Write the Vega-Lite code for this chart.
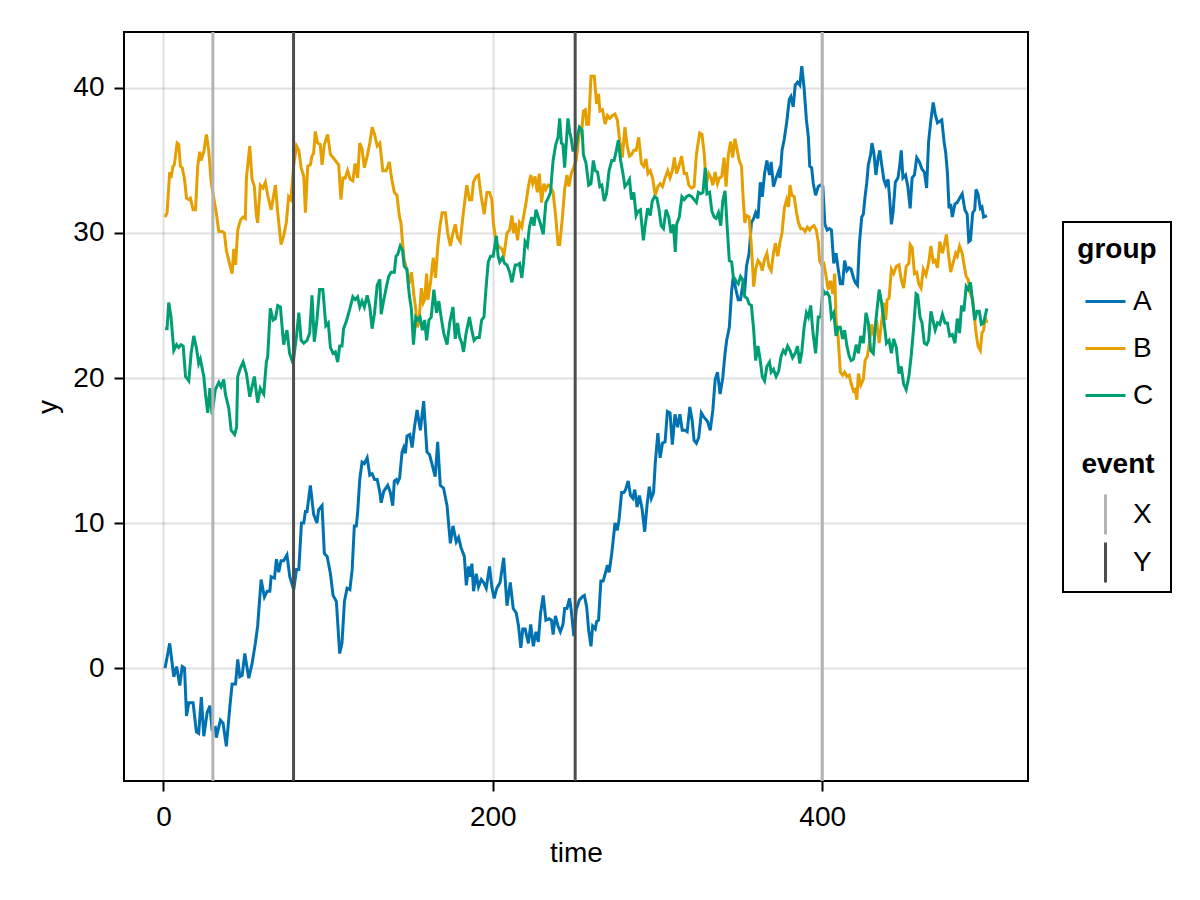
{
  "$schema": "https://vega.github.io/schema/vega-lite/v6.json",
  "width": 904,
  "height": 749,
  "autosize": {"type": "none"},
  "padding": {"left": 124, "top": 32, "right": 172, "bottom": 119},
  "background": "white",
  "datasets": {
    "walks": [
      {"group":"A","time":1,"y":0.0},{"group":"A","time":3.8,"y":1.7},{"group":"A","time":6.3,"y":-0.6},{"group":"A","time":8,"y":0.1},{"group":"A","time":9.9,"y":-1.2},{"group":"A","time":11.4,"y":0.1},{"group":"A","time":12.8,"y":0.0},{"group":"A","time":14,"y":-3.3},{"group":"A","time":15.4,"y":-2.4},{"group":"A","time":18,"y":-2.4},{"group":"A","time":20,"y":-4.4},{"group":"A","time":21.4,"y":-4.5},{"group":"A","time":23,"y":-2.0},{"group":"A","time":24.5,"y":-4.7},{"group":"A","time":26.5,"y":-3.1},{"group":"A","time":28.2,"y":-2.6},{"group":"A","time":29.5,"y":-4.2},{"group":"A","time":31.5,"y":-4.1},{"group":"A","time":32.1,"y":-4.8},{"group":"A","time":34.6,"y":-3.6},{"group":"A","time":36.2,"y":-3.8},{"group":"A","time":38.2,"y":-5.4},{"group":"A","time":40.3,"y":-2.7},{"group":"A","time":41.7,"y":-1.1},{"group":"A","time":43.8,"y":-1.1},{"group":"A","time":45.1,"y":0.6},{"group":"A","time":46.4,"y":-0.6},{"group":"A","time":47.8,"y":-0.5},{"group":"A","time":49.4,"y":1.0},{"group":"A","time":51.8,"y":-0.7},{"group":"A","time":53.8,"y":0.3},{"group":"A","time":55.8,"y":1.7},{"group":"A","time":57.2,"y":2.9},{"group":"A","time":59.3,"y":6.1},{"group":"A","time":61.3,"y":4.9},{"group":"A","time":63,"y":5.3},{"group":"A","time":64.6,"y":5.3},{"group":"A","time":65.4,"y":6.3},{"group":"A","time":67.4,"y":6.2},{"group":"A","time":68.6,"y":7.5},{"group":"A","time":70,"y":6.6},{"group":"A","time":71.4,"y":7.4},{"group":"A","time":73,"y":7.4},{"group":"A","time":75,"y":7.8},{"group":"A","time":76.7,"y":6.3},{"group":"A","time":79.1,"y":5.4},{"group":"A","time":80.8,"y":6.8},{"group":"A","time":82.2,"y":6.8},{"group":"A","time":83.8,"y":10.0},{"group":"A","time":85.2,"y":10.0},{"group":"A","time":86.2,"y":10.8},{"group":"A","time":87.2,"y":10.8},{"group":"A","time":89.2,"y":12.6},{"group":"A","time":91.2,"y":10.6},{"group":"A","time":93.2,"y":10.0},{"group":"A","time":94.2,"y":10.9},{"group":"A","time":96.3,"y":11.2},{"group":"A","time":97.7,"y":7.9},{"group":"A","time":99.4,"y":7.7},{"group":"A","time":101.4,"y":6.5},{"group":"A","time":103,"y":5.0},{"group":"A","time":105,"y":4.6},{"group":"A","time":107,"y":1.0},{"group":"A","time":108.4,"y":1.7},{"group":"A","time":109.9,"y":4.6},{"group":"A","time":111.5,"y":5.5},{"group":"A","time":113.2,"y":5.4},{"group":"A","time":114.6,"y":6.8},{"group":"A","time":115.9,"y":9.8},{"group":"A","time":117.1,"y":9.8},{"group":"A","time":117.9,"y":10.7},{"group":"A","time":119.2,"y":13.0},{"group":"A","time":120.6,"y":14.2},{"group":"A","time":122,"y":14.1},{"group":"A","time":123.7,"y":14.5},{"group":"A","time":125.3,"y":13.3},{"group":"A","time":126.7,"y":13.4},{"group":"A","time":128.2,"y":13.0},{"group":"A","time":129.8,"y":13.0},{"group":"A","time":131.4,"y":12.1},{"group":"A","time":132.2,"y":11.4},{"group":"A","time":133.8,"y":12.2},{"group":"A","time":136.2,"y":12.6},{"group":"A","time":137.8,"y":12.1},{"group":"A","time":139.2,"y":11.2},{"group":"A","time":140.2,"y":12.9},{"group":"A","time":141.4,"y":13.0},{"group":"A","time":142.2,"y":12.8},{"group":"A","time":143.4,"y":13.1},{"group":"A","time":144.9,"y":14.9},{"group":"A","time":145.9,"y":15.2},{"group":"A","time":146.9,"y":14.8},{"group":"A","time":147.9,"y":16.0},{"group":"A","time":149.6,"y":16.1},{"group":"A","time":151,"y":15.2},{"group":"A","time":152.4,"y":16.6},{"group":"A","time":154,"y":17.8},{"group":"A","time":156,"y":16.4},{"group":"A","time":158,"y":18.4},{"group":"A","time":160,"y":14.9},{"group":"A","time":161.6,"y":14.7},{"group":"A","time":163,"y":14.1},{"group":"A","time":165,"y":13.2},{"group":"A","time":166.5,"y":15.6},{"group":"A","time":168.1,"y":12.6},{"group":"A","time":170.1,"y":12.4},{"group":"A","time":172.2,"y":11.2},{"group":"A","time":174.2,"y":8.6},{"group":"A","time":175.8,"y":9.8},{"group":"A","time":177.8,"y":8.7},{"group":"A","time":179.2,"y":9.0},{"group":"A","time":180.7,"y":8.3},{"group":"A","time":182.7,"y":7.7},{"group":"A","time":183.9,"y":5.7},{"group":"A","time":185.3,"y":7.0},{"group":"A","time":186.3,"y":6.3},{"group":"A","time":187.3,"y":7.2},{"group":"A","time":188.3,"y":5.3},{"group":"A","time":189.9,"y":6.5},{"group":"A","time":191.3,"y":5.6},{"group":"A","time":193,"y":6.1},{"group":"A","time":194.4,"y":5.9},{"group":"A","time":196,"y":5.5},{"group":"A","time":198,"y":7.0},{"group":"A","time":199.4,"y":5.6},{"group":"A","time":200.8,"y":4.8},{"group":"A","time":202.4,"y":5.5},{"group":"A","time":204.4,"y":5.9},{"group":"A","time":206.6,"y":7.6},{"group":"A","time":208.6,"y":4.3},{"group":"A","time":210.6,"y":5.9},{"group":"A","time":212.4,"y":4.1},{"group":"A","time":214.2,"y":3.8},{"group":"A","time":215.6,"y":2.9},{"group":"A","time":217,"y":1.4},{"group":"A","time":218.2,"y":2.7},{"group":"A","time":219.6,"y":2.7},{"group":"A","time":221.6,"y":1.7},{"group":"A","time":223,"y":3.0},{"group":"A","time":224.6,"y":1.5},{"group":"A","time":226.2,"y":2.5},{"group":"A","time":227.6,"y":1.8},{"group":"A","time":229,"y":3.8},{"group":"A","time":230.6,"y":5.0},{"group":"A","time":232.2,"y":3.3},{"group":"A","time":234.2,"y":3.4},{"group":"A","time":235.6,"y":3.3},{"group":"A","time":236.6,"y":2.3},{"group":"A","time":238,"y":3.6},{"group":"A","time":239.6,"y":2.9},{"group":"A","time":241,"y":2.5},{"group":"A","time":242.6,"y":3.0},{"group":"A","time":243.6,"y":4.1},{"group":"A","time":245,"y":4.1},{"group":"A","time":246.6,"y":4.8},{"group":"A","time":247.6,"y":4.0},{"group":"A","time":249.2,"y":2.2},{"group":"A","time":250.6,"y":4.0},{"group":"A","time":252.6,"y":4.7},{"group":"A","time":254.2,"y":4.9},{"group":"A","time":255.6,"y":5.0},{"group":"A","time":257,"y":4.2},{"group":"A","time":258.2,"y":2.6},{"group":"A","time":259.6,"y":1.5},{"group":"A","time":260.6,"y":2.9},{"group":"A","time":262.2,"y":2.7},{"group":"A","time":263,"y":3.2},{"group":"A","time":264.2,"y":3.3},{"group":"A","time":265.6,"y":6.0},{"group":"A","time":267,"y":6.0},{"group":"A","time":268.2,"y":6.5},{"group":"A","time":269.6,"y":7.1},{"group":"A","time":270.6,"y":6.6},{"group":"A","time":272.2,"y":7.9},{"group":"A","time":274.2,"y":10.0},{"group":"A","time":275.6,"y":9.5},{"group":"A","time":276.6,"y":10.2},{"group":"A","time":278.2,"y":12.1},{"group":"A","time":279.6,"y":12.1},{"group":"A","time":280.6,"y":12.3},{"group":"A","time":282.2,"y":12.9},{"group":"A","time":283.6,"y":11.9},{"group":"A","time":285,"y":11.7},{"group":"A","time":286.2,"y":12.3},{"group":"A","time":287.6,"y":11.1},{"group":"A","time":289,"y":11.9},{"group":"A","time":290.6,"y":11.0},{"group":"A","time":292.2,"y":9.4},{"group":"A","time":293.6,"y":11.2},{"group":"A","time":295,"y":12.5},{"group":"A","time":296.2,"y":11.7},{"group":"A","time":297.6,"y":12.1},{"group":"A","time":298.6,"y":14.1},{"group":"A","time":300.2,"y":16.2},{"group":"A","time":301.6,"y":14.5},{"group":"A","time":303,"y":15.5},{"group":"A","time":304.6,"y":15.6},{"group":"A","time":306,"y":17.7},{"group":"A","time":307.6,"y":17.6},{"group":"A","time":309,"y":15.4},{"group":"A","time":310.6,"y":17.5},{"group":"A","time":312.2,"y":16.6},{"group":"A","time":313.6,"y":17.5},{"group":"A","time":315,"y":16.4},{"group":"A","time":316.6,"y":16.4},{"group":"A","time":318,"y":16.3},{"group":"A","time":319.6,"y":18.0},{"group":"A","time":321,"y":17.1},{"group":"A","time":322.2,"y":15.7},{"group":"A","time":323.6,"y":15.5},{"group":"A","time":325,"y":15.9},{"group":"A","time":326.6,"y":17.6},{"group":"A","time":328.2,"y":17.3},{"group":"A","time":330.4,"y":17.0},{"group":"A","time":332,"y":16.4},{"group":"A","time":333.6,"y":17.8},{"group":"A","time":335,"y":19.9},{"group":"A","time":336.4,"y":20.4},{"group":"A","time":338,"y":18.9},{"group":"A","time":339.6,"y":20.0},{"group":"A","time":341,"y":21.7},{"group":"A","time":342,"y":22.6},{"group":"A","time":343.6,"y":23.5},{"group":"A","time":345,"y":26.0},{"group":"A","time":346,"y":27.0},{"group":"A","time":347.6,"y":26.1},{"group":"A","time":349,"y":25.4},{"group":"A","time":350.4,"y":25.4},{"group":"A","time":351.6,"y":26.3},{"group":"A","time":353,"y":26.1},{"group":"A","time":354,"y":27.7},{"group":"A","time":355.6,"y":28.6},{"group":"A","time":357,"y":30.7},{"group":"A","time":358.4,"y":31.0},{"group":"A","time":359.6,"y":31.4},{"group":"A","time":361,"y":31.0},{"group":"A","time":362.4,"y":33.5},{"group":"A","time":363.6,"y":32.5},{"group":"A","time":365,"y":34.1},{"group":"A","time":366.4,"y":35.0},{"group":"A","time":368,"y":34.0},{"group":"A","time":369,"y":34.9},{"group":"A","time":370.4,"y":33.2},{"group":"A","time":372,"y":33.8},{"group":"A","time":373.6,"y":34.3},{"group":"A","time":374.4,"y":33.8},{"group":"A","time":375.6,"y":35.7},{"group":"A","time":377,"y":36.5},{"group":"A","time":378.4,"y":37.6},{"group":"A","time":380,"y":39.2},{"group":"A","time":381,"y":39.4},{"group":"A","time":382.4,"y":38.7},{"group":"A","time":383.6,"y":40.2},{"group":"A","time":385,"y":40.4},{"group":"A","time":386.4,"y":40.2},{"group":"A","time":387.6,"y":41.5},{"group":"A","time":389,"y":40.0},{"group":"A","time":390.4,"y":37.8},{"group":"A","time":391.6,"y":36.6},{"group":"A","time":392.4,"y":34.6},{"group":"A","time":393.6,"y":34.5},{"group":"A","time":394.6,"y":33.4},{"group":"A","time":396,"y":32.6},{"group":"A","time":397.6,"y":33.2},{"group":"A","time":399,"y":33.3},{"group":"A","time":400.4,"y":33.2},{"group":"A","time":401.6,"y":30.6},{"group":"A","time":403,"y":30.2},{"group":"A","time":404.4,"y":30.3},{"group":"A","time":405.6,"y":30.2},{"group":"A","time":407,"y":27.9},{"group":"A","time":408.4,"y":28.6},{"group":"A","time":409.6,"y":27.6},{"group":"A","time":411,"y":26.5},{"group":"A","time":412.4,"y":26.5},{"group":"A","time":413.6,"y":28.1},{"group":"A","time":415,"y":27.4},{"group":"A","time":416.4,"y":27.6},{"group":"A","time":417.6,"y":27.5},{"group":"A","time":419,"y":26.9},{"group":"A","time":420,"y":26.6},{"group":"A","time":421.4,"y":26.4},{"group":"A","time":422.6,"y":29.3},{"group":"A","time":424,"y":31.1},{"group":"A","time":425,"y":31.3},{"group":"A","time":426,"y":32.5},{"group":"A","time":427,"y":33.4},{"group":"A","time":428,"y":34.7},{"group":"A","time":429.4,"y":35.4},{"group":"A","time":430.2,"y":36.2},{"group":"A","time":431.4,"y":35.5},{"group":"A","time":432.6,"y":34.0},{"group":"A","time":434,"y":35.2},{"group":"A","time":435,"y":35.7},{"group":"A","time":436,"y":34.8},{"group":"A","time":437.4,"y":33.7},{"group":"A","time":438.6,"y":33.3},{"group":"A","time":440,"y":33.7},{"group":"A","time":441,"y":32.3},{"group":"A","time":442,"y":30.6},{"group":"A","time":443,"y":31.4},{"group":"A","time":444.4,"y":33.5},{"group":"A","time":446,"y":33.8},{"group":"A","time":447,"y":34.6},{"group":"A","time":448,"y":35.7},{"group":"A","time":449,"y":33.8},{"group":"A","time":450.6,"y":34.0},{"group":"A","time":452,"y":33.2},{"group":"A","time":453.4,"y":31.7},{"group":"A","time":454.6,"y":33.8},{"group":"A","time":456,"y":34.0},{"group":"A","time":457.4,"y":35.2},{"group":"A","time":459,"y":34.9},{"group":"A","time":460.6,"y":34.4},{"group":"A","time":462,"y":34.2},{"group":"A","time":463.4,"y":33.1},{"group":"A","time":464.6,"y":36.3},{"group":"A","time":466,"y":37.8},{"group":"A","time":467.4,"y":39.0},{"group":"A","time":468.6,"y":38.2},{"group":"A","time":470,"y":37.6},{"group":"A","time":471.4,"y":37.7},{"group":"A","time":472.6,"y":37.8},{"group":"A","time":474,"y":36.3},{"group":"A","time":475,"y":35.5},{"group":"A","time":476,"y":34.2},{"group":"A","time":477,"y":31.7},{"group":"A","time":478,"y":32.0},{"group":"A","time":479,"y":31.1},{"group":"A","time":480.6,"y":32.0},{"group":"A","time":482,"y":32.1},{"group":"A","time":483.4,"y":32.4},{"group":"A","time":485,"y":32.7},{"group":"A","time":486.6,"y":31.6},{"group":"A","time":488,"y":31.3},{"group":"A","time":489,"y":29.4},{"group":"A","time":490,"y":29.5},{"group":"A","time":491.4,"y":31.4},{"group":"A","time":492.6,"y":31.6},{"group":"A","time":493.4,"y":33.0},{"group":"A","time":494.6,"y":32.7},{"group":"A","time":496,"y":31.7},{"group":"A","time":497,"y":31.8},{"group":"A","time":498,"y":31.1},{"group":"A","time":500,"y":31.2},
      {"group":"B","time":1,"y":31.1},{"group":"B","time":2.2,"y":31.4},{"group":"B","time":3.8,"y":34.2},{"group":"B","time":4.6,"y":33.8},{"group":"B","time":5.8,"y":34.6},{"group":"B","time":6.6,"y":34.7},{"group":"B","time":8.3,"y":36.2},{"group":"B","time":9.3,"y":36.1},{"group":"B","time":10.3,"y":34.6},{"group":"B","time":11.4,"y":34.5},{"group":"B","time":12.8,"y":33.7},{"group":"B","time":14,"y":32.4},{"group":"B","time":15.4,"y":32.3},{"group":"B","time":16.4,"y":32.4},{"group":"B","time":18,"y":31.6},{"group":"B","time":19.5,"y":31.6},{"group":"B","time":20.8,"y":34.6},{"group":"B","time":22,"y":35.6},{"group":"B","time":22.8,"y":35.0},{"group":"B","time":24.5,"y":35.6},{"group":"B","time":26.1,"y":36.8},{"group":"B","time":27.5,"y":35.7},{"group":"B","time":29,"y":33.5},{"group":"B","time":31,"y":32.1},{"group":"B","time":32.1,"y":31.4},{"group":"B","time":33.6,"y":30.1},{"group":"B","time":35.6,"y":30.1},{"group":"B","time":37,"y":30.0},{"group":"B","time":38.2,"y":28.8},{"group":"B","time":40.3,"y":27.8},{"group":"B","time":41.7,"y":27.2},{"group":"B","time":42.7,"y":28.9},{"group":"B","time":43.8,"y":27.8},{"group":"B","time":45.1,"y":30.2},{"group":"B","time":46.8,"y":30.9},{"group":"B","time":48.4,"y":31.1},{"group":"B","time":49.7,"y":31.0},{"group":"B","time":50.4,"y":33.8},{"group":"B","time":52.4,"y":36.0},{"group":"B","time":53.8,"y":33.7},{"group":"B","time":55.2,"y":33.2},{"group":"B","time":56.4,"y":31.2},{"group":"B","time":57.2,"y":30.7},{"group":"B","time":58.8,"y":33.3},{"group":"B","time":60.5,"y":33.1},{"group":"B","time":61.9,"y":33.5},{"group":"B","time":63.3,"y":32.6},{"group":"B","time":65.4,"y":31.6},{"group":"B","time":68,"y":33.3},{"group":"B","time":69.4,"y":31.4},{"group":"B","time":71.4,"y":29.2},{"group":"B","time":73,"y":29.8},{"group":"B","time":74.6,"y":30.7},{"group":"B","time":76,"y":32.5},{"group":"B","time":77.4,"y":32.3},{"group":"B","time":79.1,"y":34.7},{"group":"B","time":80.8,"y":36.0},{"group":"B","time":82.2,"y":35.7},{"group":"B","time":83.6,"y":34.5},{"group":"B","time":85.2,"y":33.9},{"group":"B","time":86.2,"y":31.4},{"group":"B","time":87.6,"y":34.6},{"group":"B","time":89.2,"y":34.7},{"group":"B","time":90.2,"y":35.3},{"group":"B","time":91.2,"y":35.5},{"group":"B","time":92.2,"y":37.0},{"group":"B","time":93.6,"y":36.2},{"group":"B","time":95.2,"y":36.1},{"group":"B","time":96.3,"y":34.7},{"group":"B","time":97.7,"y":36.1},{"group":"B","time":99.7,"y":36.8},{"group":"B","time":101.4,"y":35.4},{"group":"B","time":103,"y":35.2},{"group":"B","time":105,"y":34.9},{"group":"B","time":106.4,"y":34.7},{"group":"B","time":107.8,"y":32.3},{"group":"B","time":109,"y":33.8},{"group":"B","time":110.4,"y":33.8},{"group":"B","time":111.8,"y":34.3},{"group":"B","time":113.4,"y":33.7},{"group":"B","time":115,"y":33.6},{"group":"B","time":116.4,"y":34.8},{"group":"B","time":117.9,"y":33.8},{"group":"B","time":119.2,"y":36.2},{"group":"B","time":120.6,"y":35.8},{"group":"B","time":122,"y":34.5},{"group":"B","time":123.7,"y":35.3},{"group":"B","time":125.3,"y":36.2},{"group":"B","time":126.7,"y":37.3},{"group":"B","time":128.2,"y":36.8},{"group":"B","time":129.8,"y":36.0},{"group":"B","time":131.4,"y":36.2},{"group":"B","time":133.2,"y":34.3},{"group":"B","time":135.2,"y":34.3},{"group":"B","time":137.2,"y":34.9},{"group":"B","time":138.6,"y":33.7},{"group":"B","time":140.2,"y":32.8},{"group":"B","time":141.8,"y":32.6},{"group":"B","time":143.2,"y":31.2},{"group":"B","time":144.2,"y":30.7},{"group":"B","time":145.2,"y":29.3},{"group":"B","time":146.2,"y":28.1},{"group":"B","time":147.8,"y":27.5},{"group":"B","time":149.2,"y":26.5},{"group":"B","time":150.6,"y":27.3},{"group":"B","time":152.2,"y":25.6},{"group":"B","time":153.2,"y":24.7},{"group":"B","time":154.2,"y":23.5},{"group":"B","time":155.2,"y":23.9},{"group":"B","time":156.6,"y":26.2},{"group":"B","time":157.8,"y":25.2},{"group":"B","time":158.6,"y":25.4},{"group":"B","time":159.8,"y":27.2},{"group":"B","time":160.6,"y":25.4},{"group":"B","time":162.2,"y":26.6},{"group":"B","time":163.8,"y":28.3},{"group":"B","time":165.2,"y":26.9},{"group":"B","time":166.6,"y":29.1},{"group":"B","time":167.8,"y":30.4},{"group":"B","time":169.2,"y":31.4},{"group":"B","time":171.2,"y":31.4},{"group":"B","time":172.6,"y":30.0},{"group":"B","time":174.2,"y":29.1},{"group":"B","time":175.8,"y":30.0},{"group":"B","time":177.2,"y":30.6},{"group":"B","time":178.6,"y":29.7},{"group":"B","time":180.2,"y":29.4},{"group":"B","time":181.8,"y":31.1},{"group":"B","time":183.2,"y":32.4},{"group":"B","time":184.2,"y":33.3},{"group":"B","time":185.8,"y":32.3},{"group":"B","time":187.2,"y":32.3},{"group":"B","time":188.2,"y":33.5},{"group":"B","time":189.9,"y":33.9},{"group":"B","time":191.3,"y":34.0},{"group":"B","time":192.8,"y":32.6},{"group":"B","time":194.8,"y":31.3},{"group":"B","time":196.4,"y":32.8},{"group":"B","time":198,"y":32.8},{"group":"B","time":199.4,"y":32.3},{"group":"B","time":200.4,"y":30.6},{"group":"B","time":202,"y":29.4},{"group":"B","time":203.4,"y":29.1},{"group":"B","time":205.4,"y":28.9},{"group":"B","time":206.8,"y":28.5},{"group":"B","time":208.6,"y":30.0},{"group":"B","time":210.2,"y":30.2},{"group":"B","time":211.6,"y":31.2},{"group":"B","time":212.6,"y":30.0},{"group":"B","time":213.6,"y":30.7},{"group":"B","time":215,"y":29.5},{"group":"B","time":216.2,"y":30.7},{"group":"B","time":217.6,"y":30.4},{"group":"B","time":218.6,"y":31.1},{"group":"B","time":220.2,"y":32.1},{"group":"B","time":221.6,"y":33.2},{"group":"B","time":223,"y":34.0},{"group":"B","time":224.2,"y":33.4},{"group":"B","time":225.6,"y":33.9},{"group":"B","time":227,"y":32.8},{"group":"B","time":228.2,"y":34.1},{"group":"B","time":229.6,"y":32.1},{"group":"B","time":231,"y":33.4},{"group":"B","time":232.2,"y":33.0},{"group":"B","time":233.6,"y":33.3},{"group":"B","time":235,"y":33.2},{"group":"B","time":236.6,"y":32.8},{"group":"B","time":238.2,"y":31.1},{"group":"B","time":239.6,"y":29.2},{"group":"B","time":240.6,"y":29.2},{"group":"B","time":242.2,"y":31.0},{"group":"B","time":243.6,"y":33.0},{"group":"B","time":245,"y":34.0},{"group":"B","time":246.2,"y":33.2},{"group":"B","time":247.6,"y":34.1},{"group":"B","time":249,"y":34.5},{"group":"B","time":250.6,"y":35.0},{"group":"B","time":251.6,"y":36.0},{"group":"B","time":253,"y":37.3},{"group":"B","time":254.2,"y":37.3},{"group":"B","time":255,"y":38.4},{"group":"B","time":256.2,"y":38.5},{"group":"B","time":257,"y":37.5},{"group":"B","time":258.2,"y":37.5},{"group":"B","time":259.6,"y":40.8},{"group":"B","time":261.6,"y":40.8},{"group":"B","time":263,"y":38.9},{"group":"B","time":264.2,"y":39.6},{"group":"B","time":265,"y":38.4},{"group":"B","time":266.6,"y":38.5},{"group":"B","time":268.2,"y":37.5},{"group":"B","time":269.6,"y":38.1},{"group":"B","time":271,"y":37.9},{"group":"B","time":272.6,"y":38.1},{"group":"B","time":274.2,"y":38.2},{"group":"B","time":275.6,"y":37.8},{"group":"B","time":277,"y":36.4},{"group":"B","time":278.6,"y":35.2},{"group":"B","time":280.2,"y":37.3},{"group":"B","time":281.6,"y":36.0},{"group":"B","time":283,"y":35.3},{"group":"B","time":284.2,"y":35.4},{"group":"B","time":285.6,"y":35.7},{"group":"B","time":287,"y":35.7},{"group":"B","time":288.6,"y":36.6},{"group":"B","time":290.2,"y":34.8},{"group":"B","time":291.6,"y":34.6},{"group":"B","time":293,"y":35.1},{"group":"B","time":294.2,"y":34.1},{"group":"B","time":295.6,"y":34.3},{"group":"B","time":297,"y":33.8},{"group":"B","time":298.6,"y":32.6},{"group":"B","time":300.2,"y":33.2},{"group":"B","time":301.6,"y":33.4},{"group":"B","time":303,"y":33.2},{"group":"B","time":304.6,"y":33.8},{"group":"B","time":306.2,"y":34.3},{"group":"B","time":307.6,"y":33.8},{"group":"B","time":309,"y":34.3},{"group":"B","time":310.2,"y":35.2},{"group":"B","time":311.6,"y":34.1},{"group":"B","time":313,"y":34.6},{"group":"B","time":314.6,"y":35.3},{"group":"B","time":316.2,"y":34.1},{"group":"B","time":317.6,"y":34.1},{"group":"B","time":319,"y":33.3},{"group":"B","time":320.6,"y":33.1},{"group":"B","time":322.2,"y":33.2},{"group":"B","time":323.6,"y":35.4},{"group":"B","time":325.6,"y":36.9},{"group":"B","time":327,"y":36.8},{"group":"B","time":328.4,"y":35.4},{"group":"B","time":329.6,"y":33.3},{"group":"B","time":331,"y":34.1},{"group":"B","time":332.4,"y":33.8},{"group":"B","time":333.6,"y":33.3},{"group":"B","time":335,"y":34.2},{"group":"B","time":336.4,"y":33.4},{"group":"B","time":337.6,"y":33.8},{"group":"B","time":339,"y":33.9},{"group":"B","time":340.4,"y":35.2},{"group":"B","time":341.6,"y":33.2},{"group":"B","time":343,"y":35.4},{"group":"B","time":344.4,"y":36.3},{"group":"B","time":345.6,"y":35.2},{"group":"B","time":347,"y":36.5},{"group":"B","time":348.4,"y":35.7},{"group":"B","time":349.6,"y":35.0},{"group":"B","time":351,"y":34.6},{"group":"B","time":352,"y":32.4},{"group":"B","time":353,"y":30.7},{"group":"B","time":354,"y":31.2},{"group":"B","time":355.6,"y":31.1},{"group":"B","time":357,"y":29.1},{"group":"B","time":358.4,"y":26.3},{"group":"B","time":359.6,"y":27.5},{"group":"B","time":361,"y":28.1},{"group":"B","time":362.4,"y":27.9},{"group":"B","time":363.6,"y":27.4},{"group":"B","time":365,"y":28.2},{"group":"B","time":366.4,"y":28.6},{"group":"B","time":367.6,"y":27.7},{"group":"B","time":369,"y":27.4},{"group":"B","time":370.4,"y":28.6},{"group":"B","time":371.6,"y":29.3},{"group":"B","time":373,"y":28.4},{"group":"B","time":374.4,"y":29.4},{"group":"B","time":375.6,"y":30.0},{"group":"B","time":377,"y":31.7},{"group":"B","time":378.4,"y":32.3},{"group":"B","time":379.6,"y":31.8},{"group":"B","time":380.4,"y":33.3},{"group":"B","time":381.6,"y":32.6},{"group":"B","time":383,"y":32.5},{"group":"B","time":384.4,"y":31.4},{"group":"B","time":385.6,"y":30.7},{"group":"B","time":387,"y":30.3},{"group":"B","time":388.4,"y":30.3},{"group":"B","time":389.6,"y":30.1},{"group":"B","time":391,"y":30.4},{"group":"B","time":392.4,"y":30.2},{"group":"B","time":393.6,"y":30.4},{"group":"B","time":395,"y":30.5},{"group":"B","time":396.4,"y":30.2},{"group":"B","time":397.6,"y":29.4},{"group":"B","time":398.4,"y":28.1},{"group":"B","time":399.6,"y":27.8},{"group":"B","time":401,"y":27.9},{"group":"B","time":402.4,"y":27.0},{"group":"B","time":403.6,"y":26.1},{"group":"B","time":405,"y":26.7},{"group":"B","time":406.4,"y":25.8},{"group":"B","time":407.6,"y":27.2},{"group":"B","time":408.4,"y":24.0},{"group":"B","time":409.6,"y":22.9},{"group":"B","time":411,"y":20.4},{"group":"B","time":412.4,"y":20.2},{"group":"B","time":413.6,"y":20.4},{"group":"B","time":415,"y":20.1},{"group":"B","time":416.4,"y":20.2},{"group":"B","time":417.6,"y":19.6},{"group":"B","time":419,"y":19.1},{"group":"B","time":420,"y":19.2},{"group":"B","time":421,"y":18.5},{"group":"B","time":422,"y":20.3},{"group":"B","time":423.4,"y":19.5},{"group":"B","time":425,"y":19.9},{"group":"B","time":426,"y":21.2},{"group":"B","time":427.4,"y":21.5},{"group":"B","time":428.6,"y":22.4},{"group":"B","time":430,"y":23.7},{"group":"B","time":431.4,"y":22.9},{"group":"B","time":433,"y":24.0},{"group":"B","time":434.6,"y":22.4},{"group":"B","time":436,"y":23.8},{"group":"B","time":437.4,"y":25.2},{"group":"B","time":438.6,"y":24.0},{"group":"B","time":439.4,"y":25.4},{"group":"B","time":440.6,"y":25.5},{"group":"B","time":442,"y":27.5},{"group":"B","time":443.4,"y":27.2},{"group":"B","time":445,"y":27.7},{"group":"B","time":446.6,"y":27.8},{"group":"B","time":448,"y":26.8},{"group":"B","time":449.4,"y":26.2},{"group":"B","time":451,"y":27.7},{"group":"B","time":452.6,"y":27.9},{"group":"B","time":453.4,"y":29.2},{"group":"B","time":454.6,"y":29.0},{"group":"B","time":456,"y":27.2},{"group":"B","time":457.4,"y":27.3},{"group":"B","time":458.6,"y":26.5},{"group":"B","time":460,"y":26.2},{"group":"B","time":461.4,"y":27.5},{"group":"B","time":463,"y":27.1},{"group":"B","time":464.6,"y":27.9},{"group":"B","time":466,"y":29.1},{"group":"B","time":467.4,"y":28.0},{"group":"B","time":468.6,"y":28.1},{"group":"B","time":470,"y":27.6},{"group":"B","time":471.4,"y":29.4},{"group":"B","time":473,"y":28.6},{"group":"B","time":474,"y":29.1},{"group":"B","time":475.4,"y":29.9},{"group":"B","time":476.6,"y":28.6},{"group":"B","time":478,"y":27.3},{"group":"B","time":479.4,"y":27.9},{"group":"B","time":481,"y":28.6},{"group":"B","time":482,"y":28.4},{"group":"B","time":483.4,"y":29.1},{"group":"B","time":485,"y":28.6},{"group":"B","time":486,"y":27.9},{"group":"B","time":487.4,"y":27.0},{"group":"B","time":488.6,"y":26.8},{"group":"B","time":490,"y":25.8},{"group":"B","time":491.4,"y":25.4},{"group":"B","time":492.6,"y":24.0},{"group":"B","time":493.4,"y":23.1},{"group":"B","time":494.6,"y":22.2},{"group":"B","time":496,"y":21.9},{"group":"B","time":497,"y":23.1},{"group":"B","time":498,"y":23.3},{"group":"B","time":499,"y":24.2},{"group":"B","time":500,"y":23.8},
      {"group":"C","time":1,"y":23.4},{"group":"C","time":2.2,"y":23.4},{"group":"C","time":3.2,"y":25.2},{"group":"C","time":4.6,"y":24.2},{"group":"C","time":6.3,"y":21.9},{"group":"C","time":8,"y":22.3},{"group":"C","time":9.3,"y":22.1},{"group":"C","time":10.7,"y":22.3},{"group":"C","time":12,"y":22.2},{"group":"C","time":13.4,"y":20.1},{"group":"C","time":15.4,"y":19.8},{"group":"C","time":16.8,"y":21.7},{"group":"C","time":18.4,"y":22.9},{"group":"C","time":20,"y":22.1},{"group":"C","time":21.4,"y":21.0},{"group":"C","time":22.4,"y":21.3},{"group":"C","time":24.5,"y":20.1},{"group":"C","time":25.5,"y":18.9},{"group":"C","time":26.9,"y":17.6},{"group":"C","time":28.2,"y":19.3},{"group":"C","time":29.5,"y":17.5},{"group":"C","time":31.5,"y":19.2},{"group":"C","time":33.6,"y":19.7},{"group":"C","time":35,"y":19.4},{"group":"C","time":36.6,"y":19.9},{"group":"C","time":37.6,"y":18.9},{"group":"C","time":39.7,"y":17.9},{"group":"C","time":41.1,"y":16.4},{"group":"C","time":43.2,"y":16.1},{"group":"C","time":44.4,"y":16.6},{"group":"C","time":45.1,"y":20.1},{"group":"C","time":46.8,"y":20.7},{"group":"C","time":48.4,"y":21.1},{"group":"C","time":50.4,"y":20.3},{"group":"C","time":52.4,"y":18.7},{"group":"C","time":53.8,"y":19.4},{"group":"C","time":55.2,"y":20.1},{"group":"C","time":57.2,"y":18.3},{"group":"C","time":58.8,"y":19.3},{"group":"C","time":60.9,"y":18.9},{"group":"C","time":62.5,"y":21.1},{"group":"C","time":63.3,"y":21.5},{"group":"C","time":64.9,"y":24.8},{"group":"C","time":66.6,"y":24.0},{"group":"C","time":68,"y":24.1},{"group":"C","time":69.4,"y":25.0},{"group":"C","time":71,"y":24.9},{"group":"C","time":73,"y":22.3},{"group":"C","time":75,"y":23.3},{"group":"C","time":76.6,"y":21.7},{"group":"C","time":78.7,"y":21.0},{"group":"C","time":80.8,"y":22.9},{"group":"C","time":82.2,"y":24.5},{"group":"C","time":83.6,"y":22.6},{"group":"C","time":85.2,"y":22.4},{"group":"C","time":87.2,"y":22.6},{"group":"C","time":88.8,"y":23.1},{"group":"C","time":90.2,"y":25.7},{"group":"C","time":91.6,"y":22.5},{"group":"C","time":93.2,"y":24.0},{"group":"C","time":94.8,"y":26.1},{"group":"C","time":96.8,"y":26.1},{"group":"C","time":98.6,"y":23.6},{"group":"C","time":100.1,"y":23.8},{"group":"C","time":101.4,"y":22.1},{"group":"C","time":103,"y":21.7},{"group":"C","time":104.4,"y":21.8},{"group":"C","time":105.8,"y":21.1},{"group":"C","time":107,"y":22.2},{"group":"C","time":108.4,"y":22.2},{"group":"C","time":109.4,"y":23.4},{"group":"C","time":111,"y":23.9},{"group":"C","time":113,"y":24.7},{"group":"C","time":115,"y":25.6},{"group":"C","time":116.4,"y":25.4},{"group":"C","time":117.9,"y":25.6},{"group":"C","time":119.2,"y":24.9},{"group":"C","time":120.6,"y":25.3},{"group":"C","time":122,"y":24.9},{"group":"C","time":123.7,"y":25.7},{"group":"C","time":125.3,"y":24.9},{"group":"C","time":126.7,"y":23.4},{"group":"C","time":128.2,"y":24.5},{"group":"C","time":129.8,"y":26.4},{"group":"C","time":131.4,"y":26.8},{"group":"C","time":132.2,"y":24.4},{"group":"C","time":133.8,"y":25.4},{"group":"C","time":135.4,"y":26.3},{"group":"C","time":136.8,"y":27.0},{"group":"C","time":138.2,"y":27.3},{"group":"C","time":140.2,"y":27.3},{"group":"C","time":141.2,"y":28.4},{"group":"C","time":142.2,"y":28.5},{"group":"C","time":143.8,"y":29.1},{"group":"C","time":145.2,"y":28.8},{"group":"C","time":146.2,"y":27.7},{"group":"C","time":147.8,"y":27.5},{"group":"C","time":149.2,"y":25.8},{"group":"C","time":150.6,"y":24.7},{"group":"C","time":151.8,"y":22.3},{"group":"C","time":153.2,"y":24.2},{"group":"C","time":154.6,"y":24.0},{"group":"C","time":155.8,"y":24.2},{"group":"C","time":157.2,"y":23.3},{"group":"C","time":158.6,"y":24.0},{"group":"C","time":159.8,"y":22.6},{"group":"C","time":161.2,"y":24.0},{"group":"C","time":162.6,"y":24.2},{"group":"C","time":164.2,"y":26.1},{"group":"C","time":165.8,"y":24.5},{"group":"C","time":167.2,"y":25.3},{"group":"C","time":168.6,"y":24.2},{"group":"C","time":170.2,"y":23.1},{"group":"C","time":172.2,"y":22.3},{"group":"C","time":173.8,"y":23.8},{"group":"C","time":175.8,"y":24.9},{"group":"C","time":177.2,"y":22.7},{"group":"C","time":178.6,"y":23.8},{"group":"C","time":179.8,"y":22.8},{"group":"C","time":181.2,"y":22.4},{"group":"C","time":182.2,"y":21.8},{"group":"C","time":183.8,"y":23.1},{"group":"C","time":185.8,"y":24.2},{"group":"C","time":187.2,"y":23.3},{"group":"C","time":188.6,"y":22.6},{"group":"C","time":190.2,"y":22.8},{"group":"C","time":191.8,"y":22.8},{"group":"C","time":193.2,"y":24.0},{"group":"C","time":194.6,"y":24.2},{"group":"C","time":195.8,"y":26.1},{"group":"C","time":197.2,"y":28.0},{"group":"C","time":198.6,"y":28.4},{"group":"C","time":200.2,"y":28.4},{"group":"C","time":202.2,"y":29.8},{"group":"C","time":203.2,"y":28.4},{"group":"C","time":204.2,"y":28.0},{"group":"C","time":205.8,"y":28.3},{"group":"C","time":207.2,"y":27.9},{"group":"C","time":208.6,"y":27.8},{"group":"C","time":210.2,"y":27.3},{"group":"C","time":211.6,"y":26.6},{"group":"C","time":213.6,"y":27.8},{"group":"C","time":215,"y":27.8},{"group":"C","time":216.2,"y":27.9},{"group":"C","time":217.6,"y":26.9},{"group":"C","time":218.6,"y":27.9},{"group":"C","time":219.6,"y":29.4},{"group":"C","time":221,"y":29.1},{"group":"C","time":222.2,"y":30.4},{"group":"C","time":223.6,"y":31.1},{"group":"C","time":225,"y":30.5},{"group":"C","time":226.2,"y":31.6},{"group":"C","time":227.6,"y":31.1},{"group":"C","time":229,"y":30.6},{"group":"C","time":230.6,"y":29.9},{"group":"C","time":232.2,"y":32.1},{"group":"C","time":233.6,"y":32.4},{"group":"C","time":235,"y":32.8},{"group":"C","time":236.6,"y":35.0},{"group":"C","time":238.2,"y":36.1},{"group":"C","time":239.6,"y":36.6},{"group":"C","time":240.6,"y":37.9},{"group":"C","time":241.6,"y":36.2},{"group":"C","time":242.6,"y":36.1},{"group":"C","time":243.6,"y":34.5},{"group":"C","time":244.6,"y":36.2},{"group":"C","time":245.6,"y":37.9},{"group":"C","time":246.6,"y":37.0},{"group":"C","time":247.6,"y":36.5},{"group":"C","time":248.6,"y":35.7},{"group":"C","time":250.2,"y":35.7},{"group":"C","time":251.6,"y":36.8},{"group":"C","time":252.6,"y":37.3},{"group":"C","time":254.2,"y":37.1},{"group":"C","time":255,"y":35.4},{"group":"C","time":256.6,"y":34.8},{"group":"C","time":258.2,"y":33.3},{"group":"C","time":259.6,"y":33.4},{"group":"C","time":261,"y":35.0},{"group":"C","time":262.2,"y":34.3},{"group":"C","time":263.6,"y":34.2},{"group":"C","time":265,"y":33.2},{"group":"C","time":266.2,"y":33.3},{"group":"C","time":267.6,"y":32.2},{"group":"C","time":269,"y":32.7},{"group":"C","time":270.6,"y":34.3},{"group":"C","time":272.2,"y":35.0},{"group":"C","time":273.6,"y":35.0},{"group":"C","time":275,"y":35.7},{"group":"C","time":276.2,"y":36.4},{"group":"C","time":277.6,"y":35.0},{"group":"C","time":279,"y":34.1},{"group":"C","time":280.2,"y":33.2},{"group":"C","time":281.6,"y":33.4},{"group":"C","time":283,"y":33.7},{"group":"C","time":284.2,"y":32.3},{"group":"C","time":285.6,"y":32.8},{"group":"C","time":287,"y":31.2},{"group":"C","time":288.2,"y":31.5},{"group":"C","time":289.6,"y":31.6},{"group":"C","time":291.4,"y":29.5},{"group":"C","time":292.6,"y":30.6},{"group":"C","time":294,"y":31.7},{"group":"C","time":295.6,"y":31.2},{"group":"C","time":296.8,"y":32.2},{"group":"C","time":298.2,"y":32.5},{"group":"C","time":299.6,"y":32.4},{"group":"C","time":300.8,"y":31.7},{"group":"C","time":302.2,"y":30.5},{"group":"C","time":303.6,"y":30.3},{"group":"C","time":305.2,"y":31.6},{"group":"C","time":306.8,"y":31.1},{"group":"C","time":308.2,"y":30.0},{"group":"C","time":309.6,"y":30.6},{"group":"C","time":310.8,"y":28.7},{"group":"C","time":311.6,"y":30.6},{"group":"C","time":313.2,"y":31.1},{"group":"C","time":314.8,"y":32.5},{"group":"C","time":316.2,"y":32.3},{"group":"C","time":317.6,"y":32.5},{"group":"C","time":319.2,"y":32.6},{"group":"C","time":320.8,"y":32.5},{"group":"C","time":322.2,"y":32.3},{"group":"C","time":323.6,"y":32.1},{"group":"C","time":324.8,"y":32.8},{"group":"C","time":326.2,"y":32.7},{"group":"C","time":327.6,"y":32.8},{"group":"C","time":329,"y":34.5},{"group":"C","time":330,"y":32.7},{"group":"C","time":331.6,"y":32.8},{"group":"C","time":333,"y":31.5},{"group":"C","time":334.4,"y":31.1},{"group":"C","time":335.6,"y":31.0},{"group":"C","time":337,"y":31.4},{"group":"C","time":338.4,"y":30.5},{"group":"C","time":339.6,"y":32.2},{"group":"C","time":341,"y":32.9},{"group":"C","time":342.4,"y":30.2},{"group":"C","time":343.6,"y":28.1},{"group":"C","time":345,"y":28.0},{"group":"C","time":346,"y":27.0},{"group":"C","time":347.6,"y":26.7},{"group":"C","time":349,"y":26.5},{"group":"C","time":350.4,"y":27.0},{"group":"C","time":351.6,"y":26.8},{"group":"C","time":353,"y":25.6},{"group":"C","time":354.4,"y":25.5},{"group":"C","time":355.6,"y":25.1},{"group":"C","time":357,"y":25.0},{"group":"C","time":358.4,"y":23.3},{"group":"C","time":359.6,"y":21.2},{"group":"C","time":361,"y":22.2},{"group":"C","time":362.4,"y":21.2},{"group":"C","time":363.6,"y":20.1},{"group":"C","time":365,"y":19.8},{"group":"C","time":366.4,"y":20.8},{"group":"C","time":368,"y":21.1},{"group":"C","time":369,"y":20.4},{"group":"C","time":370.4,"y":20.6},{"group":"C","time":372,"y":20.1},{"group":"C","time":373.6,"y":20.5},{"group":"C","time":375,"y":21.5},{"group":"C","time":376.4,"y":21.9},{"group":"C","time":377.6,"y":21.7},{"group":"C","time":379,"y":22.2},{"group":"C","time":380.4,"y":21.9},{"group":"C","time":382,"y":21.4},{"group":"C","time":383.6,"y":21.7},{"group":"C","time":385,"y":22.2},{"group":"C","time":386.4,"y":21.0},{"group":"C","time":387.6,"y":21.8},{"group":"C","time":389,"y":23.5},{"group":"C","time":390.4,"y":24.5},{"group":"C","time":391.6,"y":24.2},{"group":"C","time":393,"y":25.0},{"group":"C","time":394.4,"y":23.1},{"group":"C","time":396,"y":21.7},{"group":"C","time":397.6,"y":24.2},{"group":"C","time":399,"y":24.2},{"group":"C","time":400.4,"y":26.1},{"group":"C","time":401.6,"y":25.8},{"group":"C","time":403,"y":25.9},{"group":"C","time":404.4,"y":25.6},{"group":"C","time":405.6,"y":24.2},{"group":"C","time":407,"y":24.5},{"group":"C","time":408.4,"y":22.9},{"group":"C","time":409.6,"y":23.5},{"group":"C","time":411,"y":23.5},{"group":"C","time":412.4,"y":22.7},{"group":"C","time":413.6,"y":23.3},{"group":"C","time":415,"y":22.2},{"group":"C","time":416.4,"y":21.5},{"group":"C","time":417.6,"y":21.2},{"group":"C","time":419,"y":21.3},{"group":"C","time":420.6,"y":22.3},{"group":"C","time":422,"y":21.7},{"group":"C","time":423.4,"y":22.9},{"group":"C","time":425,"y":22.4},{"group":"C","time":426.6,"y":24.5},{"group":"C","time":428,"y":23.8},{"group":"C","time":429.4,"y":21.9},{"group":"C","time":431,"y":21.7},{"group":"C","time":432.6,"y":24.0},{"group":"C","time":434.6,"y":26.1},{"group":"C","time":436,"y":25.2},{"group":"C","time":437.4,"y":24.0},{"group":"C","time":439,"y":22.4},{"group":"C","time":440.6,"y":22.6},{"group":"C","time":442,"y":21.7},{"group":"C","time":443.4,"y":22.7},{"group":"C","time":445,"y":22.1},{"group":"C","time":446.6,"y":20.3},{"group":"C","time":448,"y":20.8},{"group":"C","time":449.4,"y":19.6},{"group":"C","time":451,"y":19.2},{"group":"C","time":452.6,"y":20.1},{"group":"C","time":454,"y":21.5},{"group":"C","time":455.4,"y":23.3},{"group":"C","time":457,"y":25.8},{"group":"C","time":458,"y":25.7},{"group":"C","time":459.4,"y":24.2},{"group":"C","time":460.6,"y":23.8},{"group":"C","time":462,"y":22.4},{"group":"C","time":463.4,"y":22.3},{"group":"C","time":464.6,"y":22.6},{"group":"C","time":466,"y":24.6},{"group":"C","time":467.4,"y":23.9},{"group":"C","time":468.6,"y":23.3},{"group":"C","time":470,"y":23.8},{"group":"C","time":471.4,"y":23.7},{"group":"C","time":473,"y":24.4},{"group":"C","time":474.6,"y":23.8},{"group":"C","time":476,"y":23.8},{"group":"C","time":477.4,"y":22.9},{"group":"C","time":479,"y":23.0},{"group":"C","time":480.6,"y":22.4},{"group":"C","time":482,"y":24.1},{"group":"C","time":483.4,"y":23.1},{"group":"C","time":484.6,"y":25.0},{"group":"C","time":486,"y":24.6},{"group":"C","time":487.4,"y":26.3},{"group":"C","time":488.6,"y":26.1},{"group":"C","time":490,"y":26.6},{"group":"C","time":491.4,"y":25.2},{"group":"C","time":492.6,"y":24.0},{"group":"C","time":494,"y":24.6},{"group":"C","time":495.4,"y":24.6},{"group":"C","time":496.6,"y":23.7},{"group":"C","time":498,"y":23.8},{"group":"C","time":500,"y":24.8}
    ],
    "events": [
      {"time": 30, "event": "X"},
      {"time": 79, "event": "Y"},
      {"time": 250, "event": "Y"},
      {"time": 400, "event": "X"}
    ]
  },
  "encoding": {
    "x": {
      "field": "time",
      "type": "quantitative",
      "title": "time",
      "scale": {"domain": [-23.95, 524.95], "nice": false, "zero": false},
      "axis": {"values": [0, 200, 400], "labelPadding": 12, "titlePadding": 8}
    }
  },
  "layer": [
    {
      "data": {"name": "walks"},
      "mark": {"type": "line", "strokeWidth": 3},
      "encoding": {
        "y": {
          "field": "y",
          "type": "quantitative",
          "title": "y",
          "scale": {"domain": [-7.79, 43.86], "nice": false, "zero": false},
          "axis": {"values": [0, 10, 20, 30, 40], "labelPadding": 10, "titlePadding": 10}
        },
        "color": {
          "field": "group",
          "type": "nominal",
          "scale": {
            "domain": ["A", "B", "C", "zz"],
            "range": ["#0072B2", "#E69F00", "#009E73", "transparent"]
          },
          "legend": {
            "title": "group",
            "orient": "none",
            "legendX": 939,
            "legendY": 190,
            "padding": 14,
            "strokeColor": "black",
            "titleAnchor": "middle",
            "titleFontSize": 28,
            "titleFontWeight": "bold",
            "titlePadding": 16,
            "labelFontSize": 28,
            "labelOffset": 6,
            "symbolType": "stroke",
            "symbolSize": 1600,
            "symbolStrokeWidth": 3,
            "symbolOffset": 4,
            "rowPadding": 11,
            "labelExpr": "datum.label == 'zz' ? '' : datum.label",
            "encode": {
              "legend": {"update": {"strokeWidth": {"value": 2}}},
              "symbols": {
                "update": {
                  "shape": {"signal": "datum.value == 'zz' ? 'M0,0L0,1' : 'stroke'"},
                  "size": {"signal": "datum.value == 'zz' ? 67000 : 1600"}
                }
              }
            }
          }
        }
      }
    },
    {
      "data": {"name": "events"},
      "mark": {"type": "rule", "strokeWidth": 3},
      "encoding": {
        "stroke": {
          "field": "event",
          "type": "nominal",
          "scale": {"domain": ["X", "Y"], "range": ["#b3b3b3", "#4d4d4d"]},
          "legend": {
            "title": "event",
            "orient": "none",
            "legendX": 957,
            "legendY": 419,
            "padding": 0,
            "titleAnchor": "middle",
            "titleFontSize": 28,
            "titleFontWeight": "bold",
            "titlePadding": 14,
            "labelFontSize": 28,
            "labelOffset": 6,
            "symbolType": "M0,-1L0,1",
            "symbolSize": 1600,
            "symbolStrokeWidth": 3,
            "rowPadding": -5
          }
        }
      }
    }
  ],
  "config": {
    "font": "Liberation Sans",
    "view": {"stroke": "black", "strokeWidth": 2},
    "axis": {
      "domain": false,
      "grid": true,
      "gridColor": "black",
      "gridOpacity": 0.12,
      "gridWidth": 2,
      "ticks": true,
      "tickColor": "black",
      "tickWidth": 2,
      "tickSize": 10,
      "labelFontSize": 28,
      "labelColor": "black",
      "labelFlush": false,
      "titleFontSize": 28,
      "titleFontWeight": "normal",
      "titleColor": "black"
    },
    "legend": {
      "labelColor": "black",
      "titleColor": "black",
      "labelFont": "Liberation Sans",
      "titleFont": "Liberation Sans"
    }
  }
}
